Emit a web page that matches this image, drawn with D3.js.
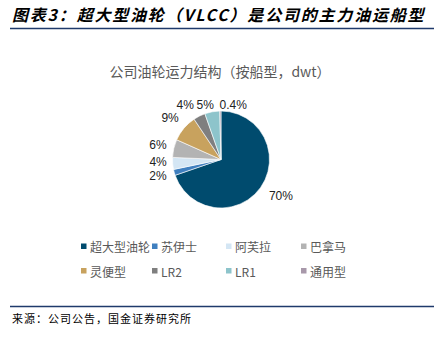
<!DOCTYPE html>
<html><head><meta charset="utf-8">
<script src="https://cdn.jsdelivr.net/npm/d3@7/dist/d3.min.js"></script>
<style>body{margin:0;background:#fff;}svg{display:block;}</style>
</head><body>
<script>
const categories = ["超大型油轮","苏伊士","阿芙拉","巴拿马","灵便型","LR2","LR1","通用型"];
const values = [70, 2, 4, 6, 9, 4, 5, 0.4];
const labels = ["70%","2%","4%","6%","9%","4%","5%","0.4%"];
const colors = ["#004B6E","#3F7FBF","#D4E6F4","#B3B3B3","#C8A25E","#7F7F7F","#8DC4CB","#A898AA"];

const W = 439, H = 342;
const svg = d3.select("body").append("svg").attr("width", W).attr("height", H);
const cjk = "'Noto Sans CJK SC','Noto Sans',sans-serif";

svg.append("text").attr("x", 12).attr("y", 21)
  .attr("font-family", cjk).attr("font-size", 16).attr("font-weight", "bold")
  .attr("font-style", "italic").attr("fill", "#000").attr("letter-spacing", 1.8)
  .text("图表3：超大型油轮（VLCC）是公司的主力油运船型");
svg.append("line").attr("x1", 10).attr("x2", 434).attr("y1", 28.5).attr("y2", 28.5)
  .attr("stroke", "#1F3A6B").attr("stroke-width", 1.5);

svg.append("text").attr("x", 220).attr("y", 77).attr("text-anchor", "middle")
  .attr("font-family", cjk).attr("font-size", 14).attr("fill", "#595959")
  .text("公司油轮运力结构（按船型，dwt）");

const cx = 221, cy = 159.5, r = 48.5;
const pie = d3.pie().sort(null).value(d => d);
const arcs = pie(values);
const arc = d3.arc().innerRadius(0).outerRadius(r);
const g = svg.append("g").attr("transform", `translate(${cx},${cy})`);
g.selectAll("path").data(arcs).join("path")
  .attr("d", arc).attr("fill", (d,i) => colors[i])
  .attr("stroke", "#fff").attr("stroke-width", 0.6);

// labels: placed on a ring outside the pie, then nudged to avoid collisions
const labelArc = d3.arc().innerRadius(r * 1.24).outerRadius(r * 1.24);
const nudge = [[11,2],[-5,0.5],[-3,-2.5],[-4.5,-1],[-5,-3],[-9,-1],[-5,4.5],[13,5.5]];
g.selectAll("text").data(arcs).join("text")
  .attr("x", (d,i) => labelArc.centroid(d)[0] + nudge[i][0])
  .attr("y", (d,i) => labelArc.centroid(d)[1] + nudge[i][1])
  .attr("text-anchor","middle").attr("dominant-baseline","central")
  .attr("font-family","'Liberation Sans',Arial,sans-serif").attr("font-size", 12).attr("fill","#222")
  .text((d,i) => labels[i]);

const legendX = [81, 152, 226, 301];
const legendY = [246.5, 271];
const lg = svg.append("g");
categories.forEach((name, i) => {
  const x = legendX[i % 4], y = legendY[Math.floor(i / 4)];
  lg.append("rect").attr("x", x).attr("y", y - 3).attr("width", 5.5).attr("height", 5.5).attr("fill", colors[i]);
  lg.append("text").attr("x", x + 9).attr("y", y).attr("dominant-baseline","central")
    .attr("font-family", cjk).attr("font-size", 12).attr("fill", "#595959").text(name);
});

svg.append("line").attr("x1", 10).attr("x2", 434).attr("y1", 306.5).attr("y2", 306.5)
  .attr("stroke", "#1F3A6B").attr("stroke-width", 1.5);
svg.append("text").attr("x", 12).attr("y", 323)
  .attr("font-family", cjk).attr("font-size", 11).attr("fill", "#000").attr("letter-spacing", 1)
  .text("来源：公司公告，国金证券研究所");
</script>
</body></html>
